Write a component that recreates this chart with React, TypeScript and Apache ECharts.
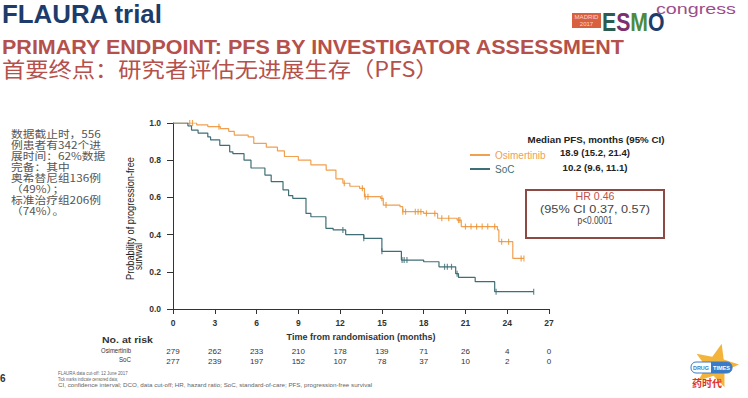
import React, { useEffect, useRef } from "react";
import * as echarts from "echarts";

// ---------- data ----------
const monthTicks = [0, 3, 6, 9, 12, 15, 18, 21, 24, 27];
const osiAtRisk = [279, 262, 233, 210, 178, 139, 71, 26, 4, 0];
const socAtRisk = [277, 239, 197, 152, 107, 78, 37, 10, 2, 0];

// Kaplan-Meier steps [month, probability] (value holds until next point)
const osiCurve: [number, number][] = [
  [0, 1.0], [1.7, 0.99], [2.5, 0.98], [3.4, 0.97], [4.0, 0.955], [4.4, 0.935],
  [5.4, 0.925], [5.8, 0.89], [6.7, 0.87], [7.5, 0.85], [8.0, 0.82], [9.0, 0.8],
  [9.9, 0.775], [11.0, 0.747], [11.7, 0.7], [12.2, 0.676], [12.7, 0.66],
  [13.4, 0.649], [13.75, 0.604], [14.9, 0.595], [15.1, 0.559], [16.3, 0.55],
  [16.5, 0.523], [18.0, 0.514], [19.0, 0.488], [20.4, 0.478], [20.7, 0.443],
  [23.3, 0.425], [23.4, 0.362], [24.4, 0.272], [25.2, 0.272],
];
const socCurve: [number, number][] = [
  [0, 1.0], [1.07, 0.985], [1.33, 0.962], [1.8, 0.946], [2.5, 0.925], [2.7, 0.909],
  [3.36, 0.88], [4.07, 0.845], [4.3, 0.835], [5.1, 0.8], [5.6, 0.758], [6.6, 0.72],
  [7.05, 0.685], [7.9, 0.64], [8.3, 0.61], [8.6, 0.595], [9.55, 0.514], [9.9, 0.496],
  [10.98, 0.434], [11.5, 0.425], [12.4, 0.4], [13.7, 0.38], [15.0, 0.31],
  [16.4, 0.263], [18.0, 0.254], [19.1, 0.227], [20.3, 0.19], [20.5, 0.17],
  [21.7, 0.147], [23.1, 0.093], [25.9, 0.093],
];
// censored observations (months)
const osiCensor = [1.2, 1.4, 3.3, 12.3, 13.6, 13.8, 14.0, 15.0, 15.3, 16.5, 16.7, 17.4, 17.6, 17.8, 18.2, 18.8, 19.3, 19.8, 20.5, 20.6, 21.0, 21.4, 21.8, 22.2, 22.6, 23.1, 23.6, 24.1, 25.0, 25.2];
const socCensor = [12.2, 13.7, 15.0, 16.45, 16.6, 16.8, 19.5, 19.7, 20.0, 20.4, 23.2, 25.9];

const medianHeader = "Median PFS, months (95% CI)";
const osiMedian = "18.9 (15.2, 21.4)";
const socMedian = "10.2 (9.6, 11.1)";
const hrLines = ["HR 0.46", "(95% CI 0.37, 0.57)", "p<0.0001"];

const leftNotes = [
  "数据截止时，556",
  "例患者有342个进",
  "展时间：62%数据",
  "完备：其中",
  "奥希替尼组136例",
  "（49%）；",
  "标准治疗组206例",
  "（74%）。",
];
const footnotes = [
  "FLAURA data cut-off: 12 June 2017",
  "Tick marks indicate censored data;",
  "CI, confidence interval; DCO, data cut-off; HR, hazard ratio; SoC, standard-of-care; PFS, progression-free survival",
];

// ---------- styles ----------
const SANS = '"Liberation Sans", Arial, sans-serif';
const NARROW = '"Liberation Sans Narrow", "Liberation Sans", Arial, sans-serif';
const CJK = '"Noto Sans CJK SC", sans-serif';
const ORANGE = "#f0a050";
const TEAL = "#3f6f76";
const RED = "#b5504a";
const AXIS = "#333";

let measureCtx: CanvasRenderingContext2D | null = null;
function measure(text: string, font: string) {
  if (!measureCtx) measureCtx = document.createElement("canvas").getContext("2d");
  if (!measureCtx) return 0;
  measureCtx.font = font;
  return measureCtx.measureText(text).width;
}

type TOpt = {
  size: number;
  color: string;
  weight?: string;
  family?: string;
  align?: "left" | "center" | "right";
  width?: number;
  rotation?: number;
};
function textEl(text: string, x: number, y: number, o: TOpt) {
  const family = o.family ?? SANS;
  const weight = o.weight ?? "normal";
  let scaleX = 1;
  if (o.width) {
    const w = measure(text, `${weight} ${o.size}px ${family}`);
    if (w > 0) scaleX = o.width / w;
  }
  const align = o.align ?? "left";
  return {
    type: "text",
    x,
    y,
    rotation: o.rotation ?? 0,
    scaleX,
    silent: true,
    style: {
      text,
      fill: o.color,
      fontSize: o.size,
      fontWeight: weight,
      fontFamily: family,
      textAlign: align,
      align,
      textVerticalAlign: "middle",
      verticalAlign: "middle",
    },
  };
}

function survivalAt(curve: [number, number][], t: number) {
  let v = curve[0][1];
  for (const [x, y] of curve) {
    if (x <= t) v = y;
    else break;
  }
  return v;
}

function starPoints(cx: number, cy: number, R: number, r: number, rot: number) {
  const pts: number[][] = [];
  for (let i = 0; i < 10; i++) {
    const rad = i % 2 === 0 ? R : r;
    const a = rot + (i * Math.PI) / 5;
    pts.push([cx + rad * Math.sin(a), cy - rad * Math.cos(a)]);
  }
  return pts;
}

export default function App() {
  const ref = useRef<HTMLDivElement>(null);
  useEffect(() => {
    if (!ref.current) return;
    const chart = echarts.init(ref.current, undefined, { renderer: "svg" });

    const notesScale = (() => {
      const w = measure(leftNotes[0], `normal 10px ${CJK}`);
      return w > 0 ? 90 / w : 1;
    })();

    const graphics: any[] = [
      // header
      textEl("FLAURA trial", 2, 14, { size: 26, weight: "bold", color: "#1d3c6b", width: 161 }),
      textEl("PRIMARY ENDPOINT: PFS BY INVESTIGATOR ASSESSMENT", 2, 47, { size: 20, weight: "bold", color: RED, width: 624 }),
      textEl("首要终点：研究者评估无进展生存（PFS）", 2, 68, { size: 21, family: CJK, color: RED, width: 437 }),
      // ESMO logo
      { type: "rect", silent: true, shape: { x: 572, y: 13, width: 29, height: 15 }, style: { fill: "#d9603f" } },
      textEl("MADRID", 586.5, 17.5, { size: 6, color: "#fcd5c8", align: "center", width: 24 }),
      textEl("2017", 586.5, 24, { size: 6, color: "#fcd5c8", align: "center" }),
      {
        type: "text",
        x: 602,
        y: 22,
        silent: true,
        scaleX: 0.85,
        style: {
          text: "{e|E}{s|S}{m|M}{o|O}",
          fontSize: 25,
          fontWeight: "bold",
          fontFamily: SANS,
          textVerticalAlign: "middle",
          verticalAlign: "middle",
          rich: {
            e: { fill: "#2c5c50", color: "#2c5c50", fontSize: 25, fontWeight: "bold", fontFamily: SANS },
            s: { fill: "#7c2f6e", color: "#7c2f6e", fontSize: 25, fontWeight: "bold", fontFamily: SANS },
            m: { fill: "#4f8a3c", color: "#4f8a3c", fontSize: 25, fontWeight: "bold", fontFamily: SANS },
            o: { fill: "#1d3c6b", color: "#1d3c6b", fontSize: 25, fontWeight: "bold", fontFamily: SANS },
          },
        },
      },
      textEl("congress", 656, 9, { size: 14, color: "#9b4d8c", width: 80 }),
      // left notes
      ...leftNotes.map((s, i) => {
        const el: any = textEl(s, 11, 133 + i * 11, { size: 10, family: CJK, color: "#555" });
        el.scaleX = notesScale;
        return el;
      }),
      // y-axis title
      textEl("Probability of progression-free", 130, 280, { size: 10, color: "#222", rotation: Math.PI / 2, width: 123, family: NARROW }),
      textEl("survival", 139, 270, { size: 10, color: "#222", rotation: Math.PI / 2, width: 27, family: NARROW }),
      // at-risk row labels
      textEl("No. at risk", 102, 340, { size: 9.5, weight: "bold", color: "#333", width: 51 }),
      textEl("Osimertinib", 131, 350, { size: 8, color: "#333", align: "right", width: 30, family: NARROW }),
      textEl("SoC", 131, 360, { size: 8, color: "#333", align: "right", width: 12, family: NARROW }),
      // page number and footnotes
      textEl("6", 0, 378, { size: 10, weight: "bold", color: "#333" }),
      textEl(footnotes[0], 58, 373, { size: 5, color: "#666", width: 70 }),
      textEl(footnotes[1], 58, 379, { size: 5, color: "#666", width: 60 }),
      textEl(footnotes[2], 58, 385, { size: 5, color: "#666", width: 315 }),
      // median legend texts
      textEl(medianHeader, 596, 140, { size: 9, weight: "bold", color: "#222", align: "center", width: 137 }),
      textEl(osiMedian, 595, 153, { size: 9.5, weight: "bold", color: "#222", align: "center", width: 70 }),
      textEl(socMedian, 595, 168, { size: 9.5, weight: "bold", color: "#222", align: "center", width: 65 }),
      // HR box
      { type: "rect", silent: true, shape: { x: 526, y: 190, width: 138, height: 48 }, style: { fill: "#fff", stroke: "#8c4a43", lineWidth: 2 } },
      textEl(hrLines[0], 595, 197, { size: 10, color: "#c0504d", align: "center", width: 39 }),
      textEl(hrLines[1], 595, 209, { size: 10, color: "#444", align: "center", width: 110 }),
      textEl(hrLines[2], 595, 221, { size: 10, color: "#444", align: "center", width: 35 }),
      // drug times logo
      { type: "polygon", silent: true, shape: { points: starPoints(716, 366, 23, 10, 0.25) }, style: { fill: "#f3b43c" } },
      { type: "rect", silent: true, shape: { x: 691, y: 362, width: 41, height: 11, r: 5 }, style: { fill: "#fff", stroke: "#3a7bc8", lineWidth: 1 } },
      { type: "rect", silent: true, shape: { x: 711, y: 362, width: 21, height: 11, r: [0, 5, 5, 0] }, style: { fill: "#3a7bc8" } },
      textEl("DRUG", 701, 367.5, { size: 6, weight: "bold", color: "#3a7bc8", align: "center", width: 16 }),
      textEl("TIMES", 721.5, 367.5, { size: 6, weight: "bold", color: "#fff", align: "center", width: 17 }),
      textEl("药时代", 707, 382, { size: 10, weight: "bold", family: CJK, color: "#e0312a", align: "center", width: 30 }),
    ];

    const axisLabelStyle = { fontSize: 8.5, fontWeight: "bold" as const, color: AXIS, fontFamily: NARROW };

    const riskAxis = (values: number[], offset: number) => ({
      type: "value",
      gridIndex: 0,
      position: "bottom",
      offset,
      min: 0,
      max: 27,
      interval: 3,
      axisLine: { show: false },
      axisTick: { show: false },
      splitLine: { show: false },
      axisLabel: {
        margin: 8,
        fontSize: 8,
        color: AXIS,
        fontFamily: NARROW,
        formatter: (v: number) => {
          const i = monthTicks.indexOf(v);
          return i >= 0 ? String(values[i]) : "";
        },
      },
    });

    chart.setOption({
      animation: false,
      backgroundColor: "#fff",
      grid: { left: 173, right: 199, top: 123, bottom: 89, outerBoundsMode: "none" } as any,
      legend: {
        orient: "vertical",
        left: 465,
        top: 145,
        itemWidth: 20,
        itemHeight: 2,
        itemGap: 4,
        icon: "rect",
        selectedMode: false,
        textStyle: { fontSize: 10, fontFamily: SANS },
        data: [
          { name: "Osimertinib", textStyle: { color: ORANGE } },
          { name: "SoC", textStyle: { color: TEAL } },
        ],
      },
      xAxis: [
        {
          type: "value",
          min: 0,
          max: 27,
          interval: 3,
          name: "Time from randomisation (months)",
          nameLocation: "middle",
          nameGap: 23,
          nameTextStyle: { fontSize: 9, fontWeight: "bold", color: AXIS, fontFamily: SANS },
          axisLine: { show: true, onZero: false, lineStyle: { color: AXIS, width: 1 } },
          axisTick: { show: true, length: 5, lineStyle: { color: AXIS } },
          splitLine: { show: false },
          axisLabel: { ...axisLabelStyle, margin: 9 },
        },
        riskAxis(osiAtRisk, 30),
        riskAxis(socAtRisk, 40),
      ],
      yAxis: {
        type: "value",
        min: 0,
        max: 1,
        interval: 0.2,
        axisLine: { show: true, lineStyle: { color: AXIS, width: 1 } },
        axisTick: { show: true, length: 6, lineStyle: { color: AXIS } },
        splitLine: { show: false },
        axisLabel: { ...axisLabelStyle, margin: 12, formatter: (v: number) => v.toFixed(1) },
      },
      series: [
        {
          name: "Osimertinib",
          type: "line",
          step: "end",
          showSymbol: false,
          symbol: "none",
          data: osiCurve,
          lineStyle: { color: ORANGE, width: 1.2 },
          itemStyle: { color: ORANGE },
          z: 3,
        },
        {
          name: "SoC",
          type: "line",
          step: "end",
          showSymbol: false,
          symbol: "none",
          data: socCurve,
          lineStyle: { color: TEAL, width: 1.2 },
          itemStyle: { color: TEAL },
          z: 3,
        },
        {
          name: "Osimertinib censored",
          type: "scatter",
          silent: true,
          symbol: "rect",
          symbolSize: [1.2, 6],
          data: osiCensor.map((t) => [t, survivalAt(osiCurve, t)]),
          itemStyle: { color: "#e8922e" },
          z: 4,
        },
        {
          name: "SoC censored",
          type: "scatter",
          silent: true,
          symbol: "rect",
          symbolSize: [1.2, 6],
          data: socCensor.map((t) => [t, survivalAt(socCurve, t)]),
          itemStyle: { color: TEAL },
          z: 4,
        },
      ],
      graphic: { elements: graphics },
    });

    return () => chart.dispose();
  }, []);

  return (
    <div
      ref={ref}
      style={{ position: "fixed", left: 0, top: 0, width: 748, height: 398, background: "#fff" }}
    />
  );
}
